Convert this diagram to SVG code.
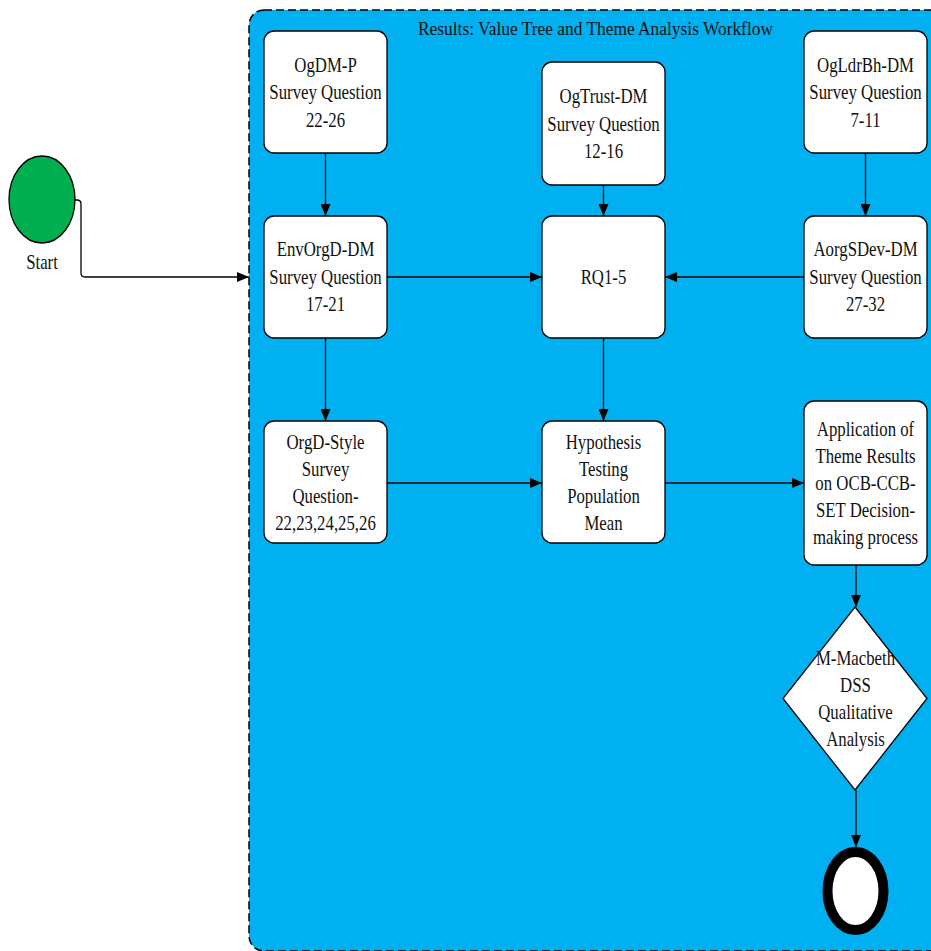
<svg xmlns="http://www.w3.org/2000/svg" width="931" height="951" viewBox="0 0 931 951">
<style>
.t{font-family:"Liberation Serif","Times New Roman",serif;font-size:21px;fill:#111;text-anchor:middle}
.box{fill:#fff;stroke:#000;stroke-width:1.3}
.c{fill:none;stroke:#000;stroke-width:1.3;marker-end:url(#ah)}
</style>
<defs>
<marker id="ah" markerUnits="userSpaceOnUse" markerWidth="12" markerHeight="10" refX="12" refY="5" orient="auto">
<path d="M0,0 L12,5 L0,10 z" fill="#000"/>
</marker>
</defs>
<rect width="931" height="951" fill="#fff"/>
<g id="container">
<rect x="249" y="10" width="720" height="941" rx="15" fill="#00B0F0" stroke="#000" stroke-width="1.5" stroke-dasharray="8,4"/>
<text x="418" y="35" font-family="'Liberation Serif','Times New Roman',serif" font-size="19.5" fill="#111" textLength="355" lengthAdjust="spacingAndGlyphs">Results: Value Tree and Theme Analysis Workflow</text>
</g>
<g id="start">
<ellipse cx="42" cy="199.5" rx="33" ry="43.5" fill="#00B050" stroke="#000" stroke-width="1.3"/>
<text class="t" transform="translate(42 0) scale(0.8 1)"><tspan x="0" y="269">Start</tspan></text>
</g>
<g id="connectors">
<path class="c" d="M75,200 H77 Q81,200 81,204 V273 Q81,277 85,277 H249"/>
<path class="c" d="M325.5,153 V216"/>
<path class="c" d="M603.5,185 V216"/>
<path class="c" d="M865.5,153 V216"/>
<path class="c" d="M387,277 H542"/>
<path class="c" d="M804,277 H665"/>
<path class="c" d="M325.5,338 V421"/>
<path class="c" d="M603.5,338 V421"/>
<path class="c" d="M387,483 H542"/>
<path class="c" d="M665,483 H804"/>
<path class="c" d="M856,565 V607"/>
<path class="c" d="M856,790 V847"/>
</g>
<g id="ogdmp">
<rect class="box" x="264" y="31" width="123" height="122" rx="10"/>
<text class="t" transform="translate(325.5 0) scale(0.8 1)"><tspan x="0" y="72">OgDM-P</tspan><tspan x="0" y="99.5">Survey Question</tspan><tspan x="0" y="127">22-26</tspan></text>
</g>
<g id="ogtrust">
<rect class="box" x="542" y="62" width="123" height="123" rx="10"/>
<text class="t" transform="translate(603.5 0) scale(0.8 1)"><tspan x="0" y="103.5">OgTrust-DM</tspan><tspan x="0" y="131">Survey Question</tspan><tspan x="0" y="158.5">12-16</tspan></text>
</g>
<g id="ogldrbh">
<rect class="box" x="804" y="31" width="123" height="122" rx="10"/>
<text class="t" transform="translate(865.5 0) scale(0.8 1)"><tspan x="0" y="72">OgLdrBh-DM</tspan><tspan x="0" y="99.5">Survey Question</tspan><tspan x="0" y="127">7-11</tspan></text>
</g>
<g id="envorgd">
<rect class="box" x="264" y="216" width="123" height="122" rx="10"/>
<text class="t" transform="translate(325.5 0) scale(0.8 1)"><tspan x="0" y="256.5">EnvOrgD-DM</tspan><tspan x="0" y="284">Survey Question</tspan><tspan x="0" y="311.5">17-21</tspan></text>
</g>
<g id="rq">
<rect class="box" x="542" y="216" width="123" height="122" rx="10"/>
<text class="t" transform="translate(603.5 0) scale(0.8 1)"><tspan x="0" y="284">RQ1-5</tspan></text>
</g>
<g id="aorgsdev">
<rect class="box" x="804" y="216" width="123" height="122" rx="10"/>
<text class="t" transform="translate(865.5 0) scale(0.8 1)"><tspan x="0" y="256.5">AorgSDev-DM</tspan><tspan x="0" y="284">Survey Question</tspan><tspan x="0" y="311.5">27-32</tspan></text>
</g>
<g id="orgdstyle">
<rect class="box" x="264" y="421" width="123" height="122" rx="10"/>
<text class="t" transform="translate(325.5 0) scale(0.8 1)"><tspan x="0" y="449">OrgD-Style</tspan><tspan x="0" y="476">Survey</tspan><tspan x="0" y="503">Question-</tspan><tspan x="0" y="530">22,23,24,25,26</tspan></text>
</g>
<g id="hypothesis">
<rect class="box" x="542" y="421" width="123" height="122" rx="10"/>
<text class="t" transform="translate(603.5 0) scale(0.8 1)"><tspan x="0" y="449">Hypothesis</tspan><tspan x="0" y="476">Testing</tspan><tspan x="0" y="503">Population</tspan><tspan x="0" y="530">Mean</tspan></text>
</g>
<g id="application">
<rect class="box" x="804" y="401" width="123" height="164" rx="10"/>
<text class="t" transform="translate(865.5 0) scale(0.8 1)"><tspan x="0" y="436">Application of</tspan><tspan x="0" y="463">Theme Results</tspan><tspan x="0" y="490">on OCB-CCB-</tspan><tspan x="0" y="517">SET Decision-</tspan><tspan x="0" y="544">making process</tspan></text>
</g>
<g id="macbeth">
<path class="box" d="M855,607 L927,698.5 L855,790 L783,698.5 z"/>
<text class="t" transform="translate(855.5 0) scale(0.8 1)"><tspan x="0" y="665">M-Macbeth</tspan><tspan x="0" y="692">DSS</tspan><tspan x="0" y="719">Qualitative</tspan><tspan x="0" y="746">Analysis</tspan></text>
</g>
<g id="end">
<ellipse cx="855.5" cy="891" rx="28" ry="39" fill="#fff" stroke="#000" stroke-width="10"/>
</g>
</svg>
